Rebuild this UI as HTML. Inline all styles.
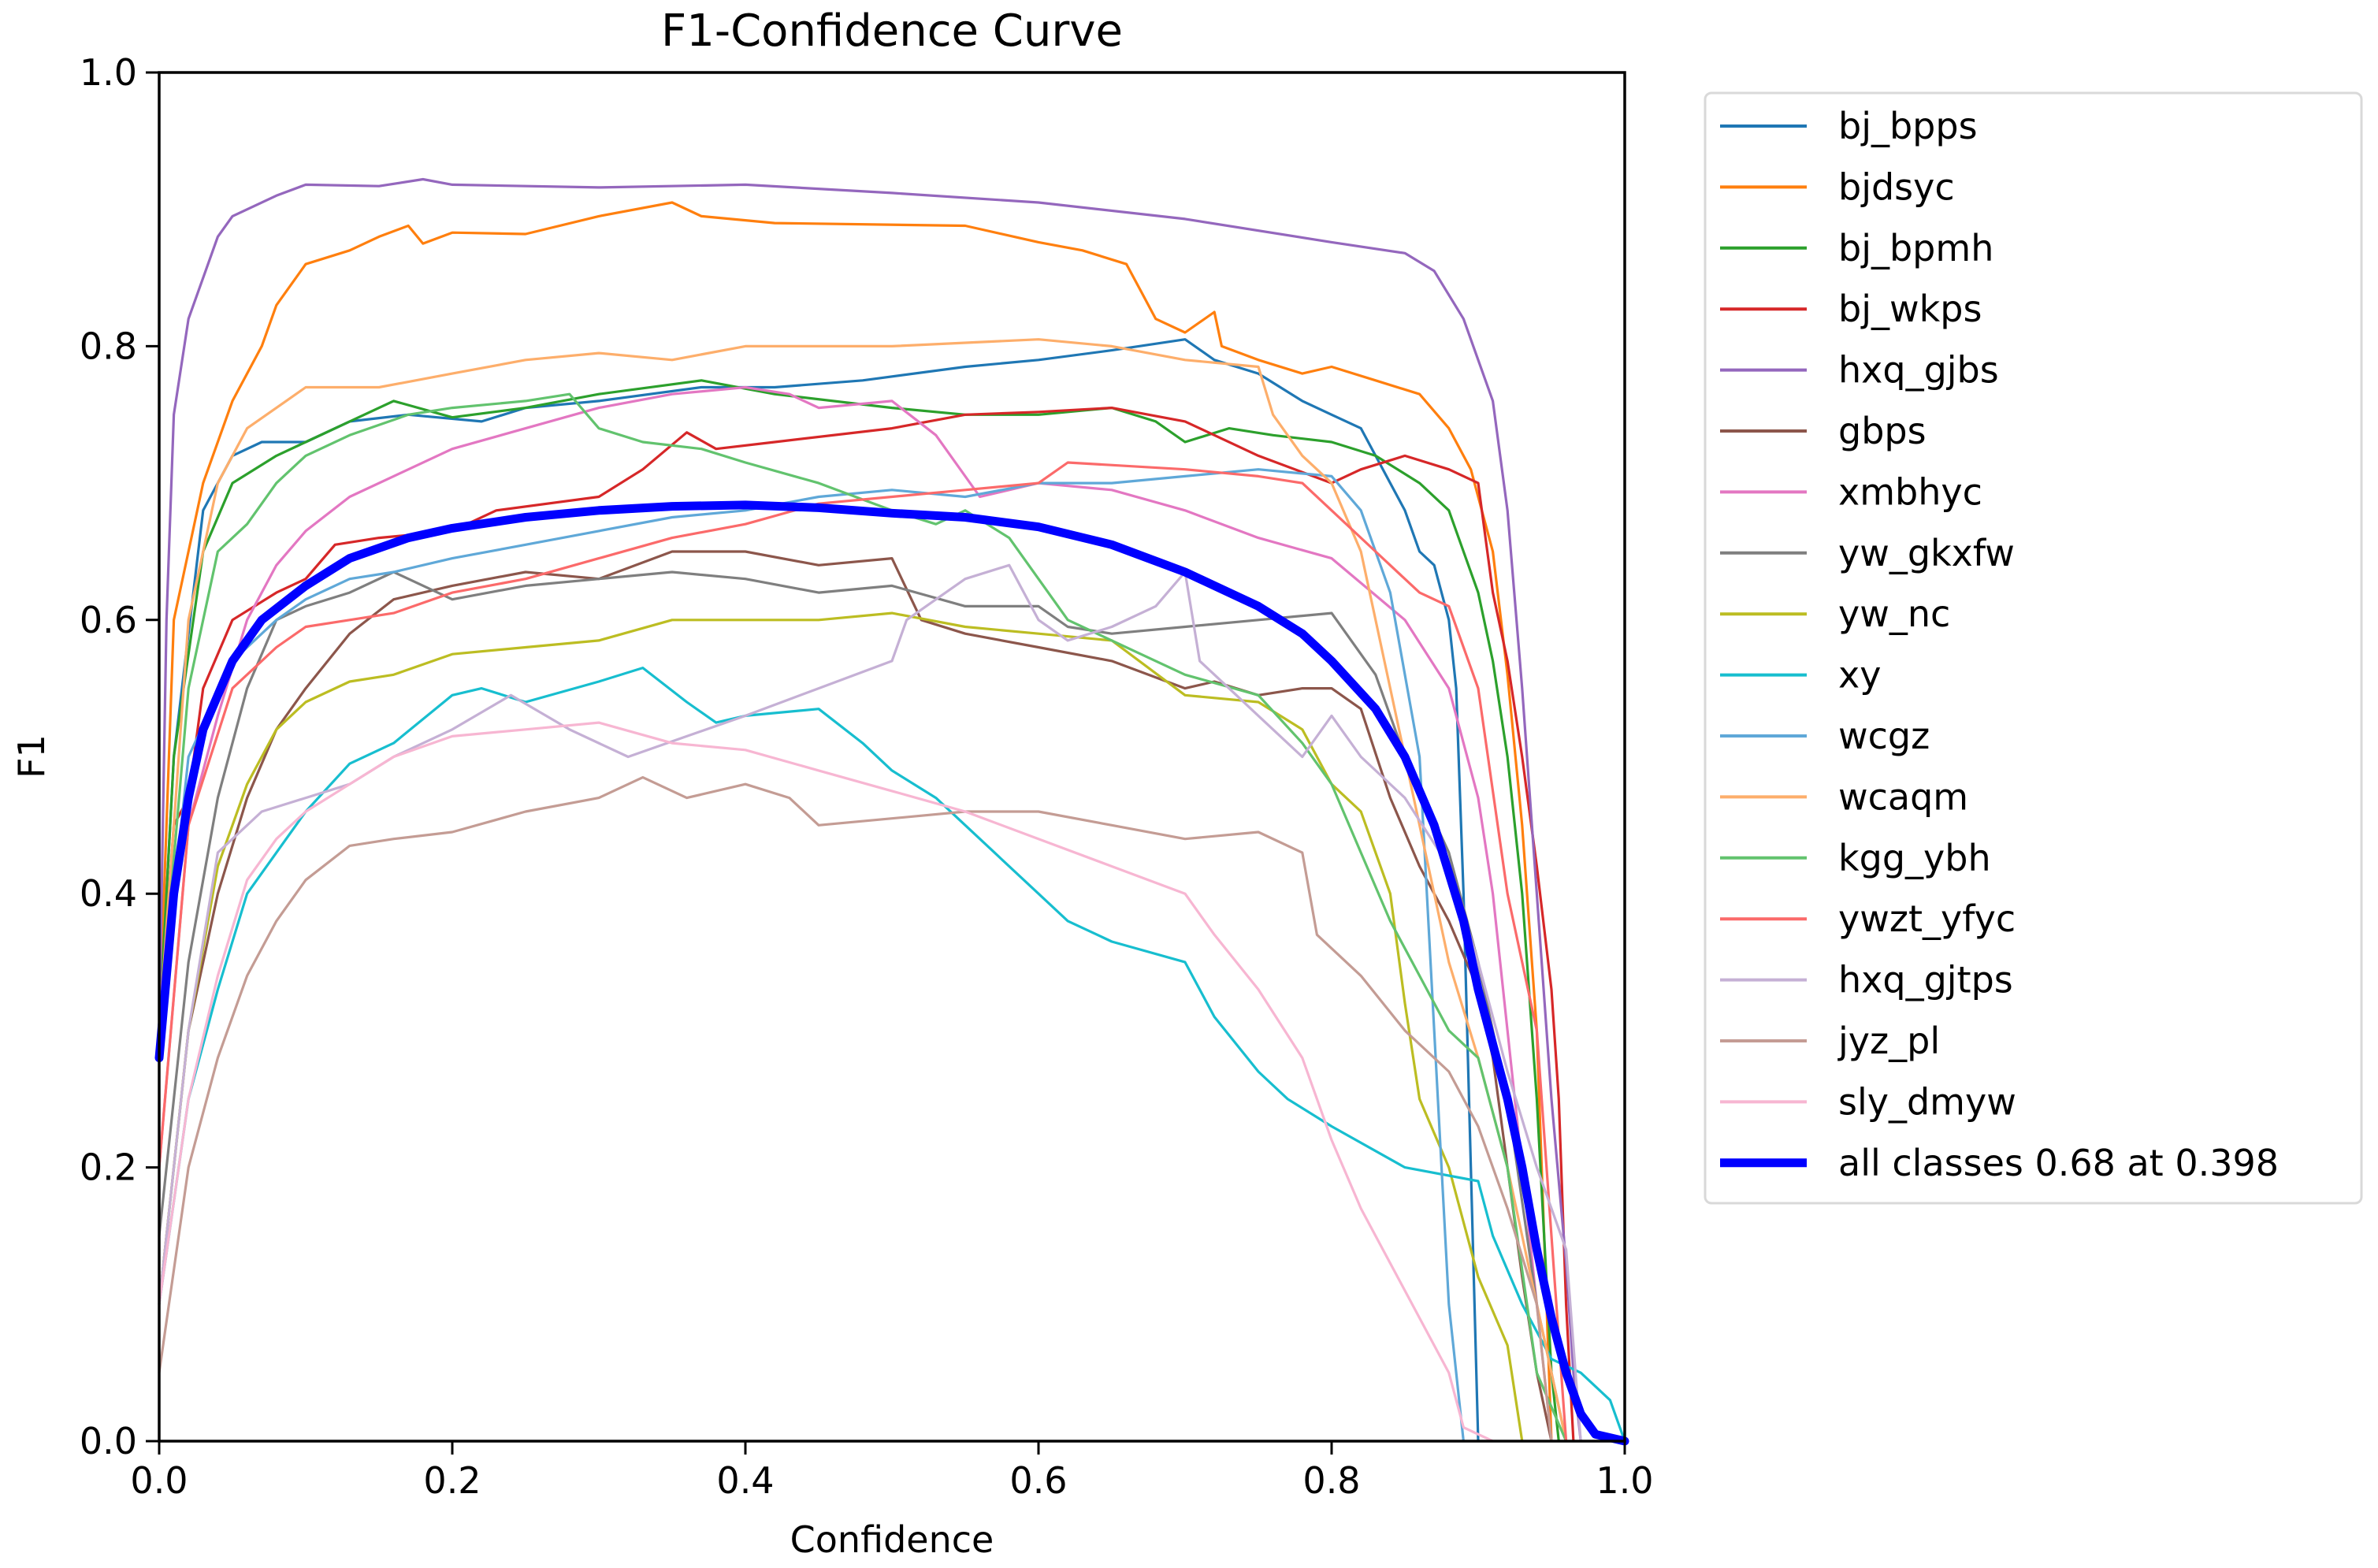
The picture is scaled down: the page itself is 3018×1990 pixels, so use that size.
<!DOCTYPE html>
<html><head><meta charset="utf-8"><style>
body{margin:0;background:#fff;}
svg{display:block;font-family:"DejaVu Sans","Liberation Sans",sans-serif;}
</style></head><body>
<svg id="chart" width="3018" height="1990" viewBox="0 0 3018 1990" xmlns="http://www.w3.org/2000/svg">
<rect width="3018" height="1990" fill="#fff"/>
<text x="1132" y="58" font-size="56" text-anchor="middle">F1-Confidence Curve</text>
<g id="plot"></g>
<g id="axes"></g>
<text x="1132" y="1970" font-size="46" text-anchor="middle">Confidence</text>
<text transform="translate(56,960) rotate(-90)" font-size="46" text-anchor="middle">F1</text>
<g id="legend"></g>
</svg>
<script>
const xTicks=[0,0.2,0.4,0.6,0.8,1.0];
const yTicks=[0,0.2,0.4,0.6,0.8,1.0];
const seriesNames=["bj_bpps","bjdsyc","bj_bpmh","bj_wkps","hxq_gjbs","gbps","xmbhyc","yw_gkxfw","yw_nc","xy","wcgz","wcaqm","kgg_ybh","ywzt_yfyc","hxq_gjtps","jyz_pl","sly_dmyw"];
const seriesColors=["#1f77b4","#ff7f0e","#2ca02c","#d62728","#9467bd","#8c564b","#e377c2","#7f7f7f","#bcbd22","#17becf","#5fa8d8","#fdae6b","#62c36e","#fb6a6a","#c5b0d5","#c49c94","#f7b6d2"];
const bj_bpps=[[0,0.3],[0.01,0.5],[0.03,0.68],[0.05,0.72],[0.07,0.73],[0.1,0.73],[0.13,0.745],[0.17,0.75],[0.22,0.745],[0.25,0.755],[0.3,0.76],[0.37,0.77],[0.42,0.77],[0.48,0.775],[0.55,0.785],[0.6,0.79],[0.65,0.797],[0.7,0.805],[0.72,0.79],[0.75,0.78],[0.78,0.76],[0.8,0.75],[0.82,0.74],[0.83,0.72],[0.84,0.7],[0.85,0.68],[0.86,0.65],[0.87,0.64],[0.88,0.6],[0.885,0.55],[0.89,0.4],[0.895,0.2],[0.9,0]];
const bjdsyc=[[0,0.3],[0.01,0.6],[0.03,0.7],[0.05,0.76],[0.07,0.8],[0.08,0.83],[0.1,0.86],[0.13,0.87],[0.15,0.88],[0.17,0.888],[0.18,0.875],[0.2,0.883],[0.25,0.882],[0.3,0.895],[0.35,0.905],[0.37,0.895],[0.42,0.89],[0.55,0.888],[0.6,0.876],[0.63,0.87],[0.66,0.86],[0.67,0.84],[0.68,0.82],[0.7,0.81],[0.72,0.825],[0.725,0.8],[0.75,0.79],[0.78,0.78],[0.8,0.785],[0.83,0.775],[0.86,0.765],[0.88,0.74],[0.895,0.71],[0.9,0.69],[0.91,0.65],[0.92,0.56],[0.93,0.45],[0.94,0.3],[0.945,0.15],[0.95,0]];
const bj_bpmh=[[0,0.3],[0.01,0.5],[0.03,0.65],[0.05,0.7],[0.08,0.72],[0.1,0.73],[0.13,0.745],[0.16,0.76],[0.2,0.748],[0.25,0.755],[0.3,0.765],[0.37,0.775],[0.42,0.765],[0.5,0.755],[0.55,0.75],[0.6,0.75],[0.65,0.755],[0.68,0.745],[0.7,0.73],[0.73,0.74],[0.76,0.735],[0.8,0.73],[0.83,0.72],[0.86,0.7],[0.88,0.68],[0.89,0.65],[0.9,0.62],[0.91,0.57],[0.92,0.5],[0.93,0.4],[0.94,0.25],[0.95,0.05],[0.955,0]];
const bj_wkps=[[0,0.3],[0.01,0.45],[0.02,0.47],[0.03,0.55],[0.05,0.6],[0.08,0.62],[0.1,0.63],[0.12,0.655],[0.15,0.66],[0.2,0.665],[0.23,0.68],[0.3,0.69],[0.33,0.71],[0.36,0.737],[0.38,0.725],[0.42,0.73],[0.5,0.74],[0.55,0.75],[0.6,0.752],[0.65,0.755],[0.7,0.745],[0.75,0.72],[0.8,0.7],[0.82,0.71],[0.85,0.72],[0.88,0.71],[0.9,0.7],[0.91,0.62],[0.92,0.57],[0.93,0.5],[0.94,0.42],[0.95,0.33],[0.955,0.25],[0.96,0.1],[0.965,0]];
const hxq_gjbs=[[0,0.3],[0.005,0.6],[0.01,0.75],[0.02,0.82],[0.04,0.88],[0.05,0.895],[0.08,0.91],[0.1,0.918],[0.15,0.917],[0.18,0.922],[0.2,0.918],[0.3,0.916],[0.4,0.918],[0.5,0.912],[0.6,0.905],[0.7,0.893],[0.8,0.876],[0.85,0.868],[0.87,0.855],[0.89,0.82],[0.91,0.76],[0.92,0.68],[0.93,0.55],[0.94,0.4],[0.95,0.25],[0.96,0.13],[0.965,0.05],[0.97,0]];
const gbps=[[0,0.1],[0.02,0.3],[0.04,0.4],[0.06,0.47],[0.08,0.52],[0.1,0.55],[0.13,0.59],[0.16,0.615],[0.2,0.625],[0.25,0.635],[0.3,0.63],[0.35,0.65],[0.4,0.65],[0.45,0.64],[0.5,0.645],[0.52,0.6],[0.55,0.59],[0.6,0.58],[0.65,0.57],[0.7,0.55],[0.72,0.555],[0.75,0.545],[0.78,0.55],[0.8,0.55],[0.82,0.535],[0.84,0.47],[0.86,0.42],[0.88,0.38],[0.9,0.33],[0.91,0.28],[0.92,0.2],[0.93,0.12],[0.94,0.05],[0.95,0]];
const xmbhyc=[[0,0.2],[0.02,0.45],[0.04,0.53],[0.06,0.6],[0.08,0.64],[0.1,0.665],[0.13,0.69],[0.16,0.705],[0.2,0.725],[0.25,0.74],[0.3,0.755],[0.35,0.765],[0.4,0.77],[0.43,0.765],[0.45,0.755],[0.5,0.76],[0.53,0.735],[0.56,0.69],[0.6,0.7],[0.65,0.695],[0.7,0.68],[0.75,0.66],[0.8,0.645],[0.85,0.6],[0.88,0.55],[0.9,0.47],[0.91,0.4],[0.92,0.3],[0.93,0.2],[0.94,0.1],[0.95,0]];
const yw_gkxfw=[[0,0.15],[0.02,0.35],[0.04,0.47],[0.06,0.55],[0.08,0.6],[0.1,0.61],[0.13,0.62],[0.16,0.635],[0.2,0.615],[0.25,0.625],[0.3,0.63],[0.35,0.635],[0.4,0.63],[0.45,0.62],[0.5,0.625],[0.55,0.61],[0.6,0.61],[0.62,0.595],[0.65,0.59],[0.7,0.595],[0.75,0.6],[0.8,0.605],[0.83,0.56],[0.85,0.5],[0.88,0.43],[0.9,0.35],[0.92,0.25],[0.94,0.1],[0.96,0]];
const yw_nc=[[0,0.1],[0.02,0.3],[0.04,0.42],[0.06,0.48],[0.08,0.52],[0.1,0.54],[0.13,0.555],[0.16,0.56],[0.2,0.575],[0.25,0.58],[0.3,0.585],[0.35,0.6],[0.4,0.6],[0.45,0.6],[0.5,0.605],[0.55,0.595],[0.6,0.59],[0.65,0.585],[0.7,0.545],[0.75,0.54],[0.78,0.52],[0.8,0.48],[0.82,0.46],[0.84,0.4],[0.85,0.32],[0.86,0.25],[0.88,0.2],[0.9,0.12],[0.92,0.07],[0.93,0]];
const xy=[[0,0.1],[0.02,0.25],[0.04,0.33],[0.06,0.4],[0.08,0.43],[0.1,0.46],[0.13,0.495],[0.16,0.51],[0.2,0.545],[0.22,0.55],[0.25,0.54],[0.3,0.555],[0.33,0.565],[0.36,0.54],[0.38,0.525],[0.4,0.53],[0.45,0.535],[0.48,0.51],[0.5,0.49],[0.53,0.47],[0.55,0.45],[0.57,0.43],[0.6,0.4],[0.62,0.38],[0.65,0.365],[0.7,0.35],[0.72,0.31],[0.75,0.27],[0.77,0.25],[0.8,0.23],[0.85,0.2],[0.9,0.19],[0.91,0.15],[0.93,0.1],[0.95,0.06],[0.97,0.05],[0.99,0.03],[1.0,0]];
const wcgz=[[0,0.3],[0.02,0.5],[0.05,0.57],[0.08,0.6],[0.1,0.615],[0.13,0.63],[0.16,0.635],[0.2,0.645],[0.25,0.655],[0.3,0.665],[0.35,0.675],[0.4,0.68],[0.45,0.69],[0.5,0.695],[0.55,0.69],[0.6,0.7],[0.65,0.7],[0.7,0.705],[0.75,0.71],[0.8,0.705],[0.82,0.68],[0.84,0.62],[0.86,0.5],[0.87,0.3],[0.88,0.1],[0.89,0]];
const wcaqm=[[0,0.3],[0.02,0.6],[0.04,0.7],[0.06,0.74],[0.08,0.755],[0.1,0.77],[0.15,0.77],[0.2,0.78],[0.25,0.79],[0.3,0.795],[0.35,0.79],[0.4,0.8],[0.5,0.8],[0.6,0.805],[0.65,0.8],[0.7,0.79],[0.75,0.785],[0.76,0.75],[0.78,0.72],[0.8,0.7],[0.82,0.65],[0.84,0.55],[0.86,0.45],[0.88,0.35],[0.9,0.28],[0.92,0.2],[0.94,0.1],[0.96,0]];
const kgg_ybh=[[0,0.3],[0.02,0.55],[0.04,0.65],[0.06,0.67],[0.08,0.7],[0.1,0.72],[0.13,0.735],[0.17,0.75],[0.2,0.755],[0.25,0.76],[0.28,0.765],[0.3,0.74],[0.33,0.73],[0.37,0.725],[0.4,0.715],[0.45,0.7],[0.5,0.68],[0.53,0.67],[0.55,0.68],[0.58,0.66],[0.6,0.63],[0.62,0.6],[0.65,0.585],[0.7,0.56],[0.75,0.545],[0.78,0.51],[0.8,0.48],[0.82,0.43],[0.84,0.38],[0.86,0.34],[0.88,0.3],[0.9,0.28],[0.92,0.2],[0.94,0.05],[0.96,0]];
const ywzt_yfyc=[[0,0.2],[0.02,0.45],[0.05,0.55],[0.08,0.58],[0.1,0.595],[0.13,0.6],[0.16,0.605],[0.2,0.62],[0.25,0.63],[0.3,0.645],[0.35,0.66],[0.4,0.67],[0.45,0.685],[0.5,0.69],[0.55,0.695],[0.6,0.7],[0.62,0.715],[0.7,0.71],[0.75,0.705],[0.78,0.7],[0.8,0.68],[0.83,0.65],[0.86,0.62],[0.88,0.61],[0.9,0.55],[0.92,0.4],[0.94,0.3],[0.95,0.15],[0.96,0]];
const hxq_gjtps=[[0,0.1],[0.02,0.3],[0.04,0.43],[0.07,0.46],[0.1,0.47],[0.13,0.48],[0.16,0.5],[0.2,0.52],[0.24,0.545],[0.28,0.52],[0.32,0.5],[0.36,0.515],[0.4,0.53],[0.45,0.55],[0.5,0.57],[0.51,0.6],[0.53,0.615],[0.55,0.63],[0.58,0.64],[0.6,0.6],[0.62,0.585],[0.65,0.595],[0.68,0.61],[0.7,0.635],[0.71,0.57],[0.73,0.55],[0.75,0.53],[0.78,0.5],[0.8,0.53],[0.82,0.5],[0.85,0.47],[0.88,0.42],[0.9,0.35],[0.92,0.27],[0.94,0.2],[0.96,0.14],[0.97,0]];
const jyz_pl=[[0,0.05],[0.02,0.2],[0.04,0.28],[0.06,0.34],[0.08,0.38],[0.1,0.41],[0.13,0.435],[0.16,0.44],[0.2,0.445],[0.25,0.46],[0.3,0.47],[0.33,0.485],[0.36,0.47],[0.4,0.48],[0.43,0.47],[0.45,0.45],[0.5,0.455],[0.55,0.46],[0.6,0.46],[0.65,0.45],[0.7,0.44],[0.75,0.445],[0.78,0.43],[0.79,0.37],[0.82,0.34],[0.85,0.3],[0.88,0.27],[0.9,0.23],[0.92,0.17],[0.94,0.1],[0.95,0]];
const sly_dmyw=[[0,0.1],[0.02,0.25],[0.04,0.34],[0.06,0.41],[0.08,0.44],[0.1,0.46],[0.13,0.48],[0.16,0.5],[0.2,0.515],[0.25,0.52],[0.3,0.525],[0.35,0.51],[0.4,0.505],[0.45,0.49],[0.5,0.475],[0.55,0.46],[0.6,0.44],[0.65,0.42],[0.7,0.4],[0.72,0.37],[0.75,0.33],[0.78,0.28],[0.8,0.22],[0.82,0.17],[0.84,0.13],[0.86,0.09],[0.88,0.05],[0.89,0.01],[0.91,0]];
const allClasses=[[0,0.28],[0.01,0.4],[0.02,0.47],[0.03,0.52],[0.05,0.57],[0.07,0.6],[0.1,0.625],[0.13,0.645],[0.17,0.66],[0.2,0.667],[0.25,0.675],[0.3,0.68],[0.35,0.683],[0.4,0.684],[0.45,0.682],[0.5,0.678],[0.55,0.675],[0.6,0.668],[0.65,0.655],[0.7,0.635],[0.75,0.61],[0.78,0.59],[0.8,0.57],[0.83,0.535],[0.85,0.5],[0.87,0.45],[0.89,0.38],[0.9,0.33],[0.92,0.25],[0.93,0.2],[0.94,0.14],[0.95,0.09],[0.96,0.05],[0.97,0.02],[0.98,0.005],[1.0,0]];
const allLabel="all classes 0.68 at 0.398";
const seriesData=[bj_bpps,bjdsyc,bj_bpmh,bj_wkps,hxq_gjbs,gbps,xmbhyc,yw_gkxfw,yw_nc,xy,wcgz,wcaqm,kgg_ybh,ywzt_yfyc,hxq_gjtps,jyz_pl,sly_dmyw];

const NS="http://www.w3.org/2000/svg";
const X0=202,X1=2062,Y0=1829,Y1=92;
function sx(v){return X0+v*(X1-X0);}
function sy(v){return Y0-v*(Y0-Y1);}
function mk(tag,attrs,parent){const e=document.createElementNS(NS,tag);for(const k in attrs)e.setAttribute(k,attrs[k]);parent.appendChild(e);return e;}
const plot=document.getElementById('plot'),axes=document.getElementById('axes'),legend=document.getElementById('legend');
function pathD(d){return d.map((p,i)=>(i?'L':'M')+sx(p[0]).toFixed(1)+','+sy(p[1]).toFixed(1)).join('');}
seriesData.forEach((d,i)=>{
  const p=mk('path',{d:pathD(d),fill:'none',stroke:seriesColors[i],'stroke-width':3.2,'stroke-linejoin':'round'},plot);
  
  
});
const ap=mk('path',{d:pathD(allClasses),fill:'none',stroke:'#0000ff','stroke-width':11,'stroke-linejoin':'round','stroke-linecap':'round'},plot);


const fr=mk('rect',{x:X0,y:Y1,width:X1-X0,height:Y0-Y1,fill:'none',stroke:'#000','stroke-width':3.5},axes);


xTicks.forEach(v=>{
  const t=mk('line',{x1:sx(v),x2:sx(v),y1:Y0,y2:Y0+17,stroke:'#000','stroke-width':3},axes);
  
  
  const l=mk('text',{x:sx(v),y:Y0+66,'font-size':46,'text-anchor':'middle'},axes);l.textContent=v.toFixed(1);
  
  
});
yTicks.forEach(v=>{
  const t=mk('line',{x1:X0-17,x2:X0,y1:sy(v),y2:sy(v),stroke:'#000','stroke-width':3},axes);
  
  
  const l=mk('text',{x:X0-28,y:sy(v)+16,'font-size':46,'text-anchor':'end'},axes);l.textContent=v.toFixed(1);
  
  
});
const lb=mk('rect',{x:2164,y:118,width:833,height:1409,rx:8,fill:'#fff',stroke:'#d9d9d9','stroke-width':3},legend);


const names=seriesNames.concat([allLabel]),cols=seriesColors.concat(['#0000ff']);
names.forEach((n,i)=>{
  const y=160+i*77.4;
  const g=mk('g',{},legend);
  
  
  mk('line',{x1:2183,x2:2293,y1:y,y2:y,stroke:cols[i],'stroke-width':i===17?11:4},g);
  const t=mk('text',{x:2333,y:y+16,'font-size':46},g);t.textContent=n;
});
</script>
</body></html>
